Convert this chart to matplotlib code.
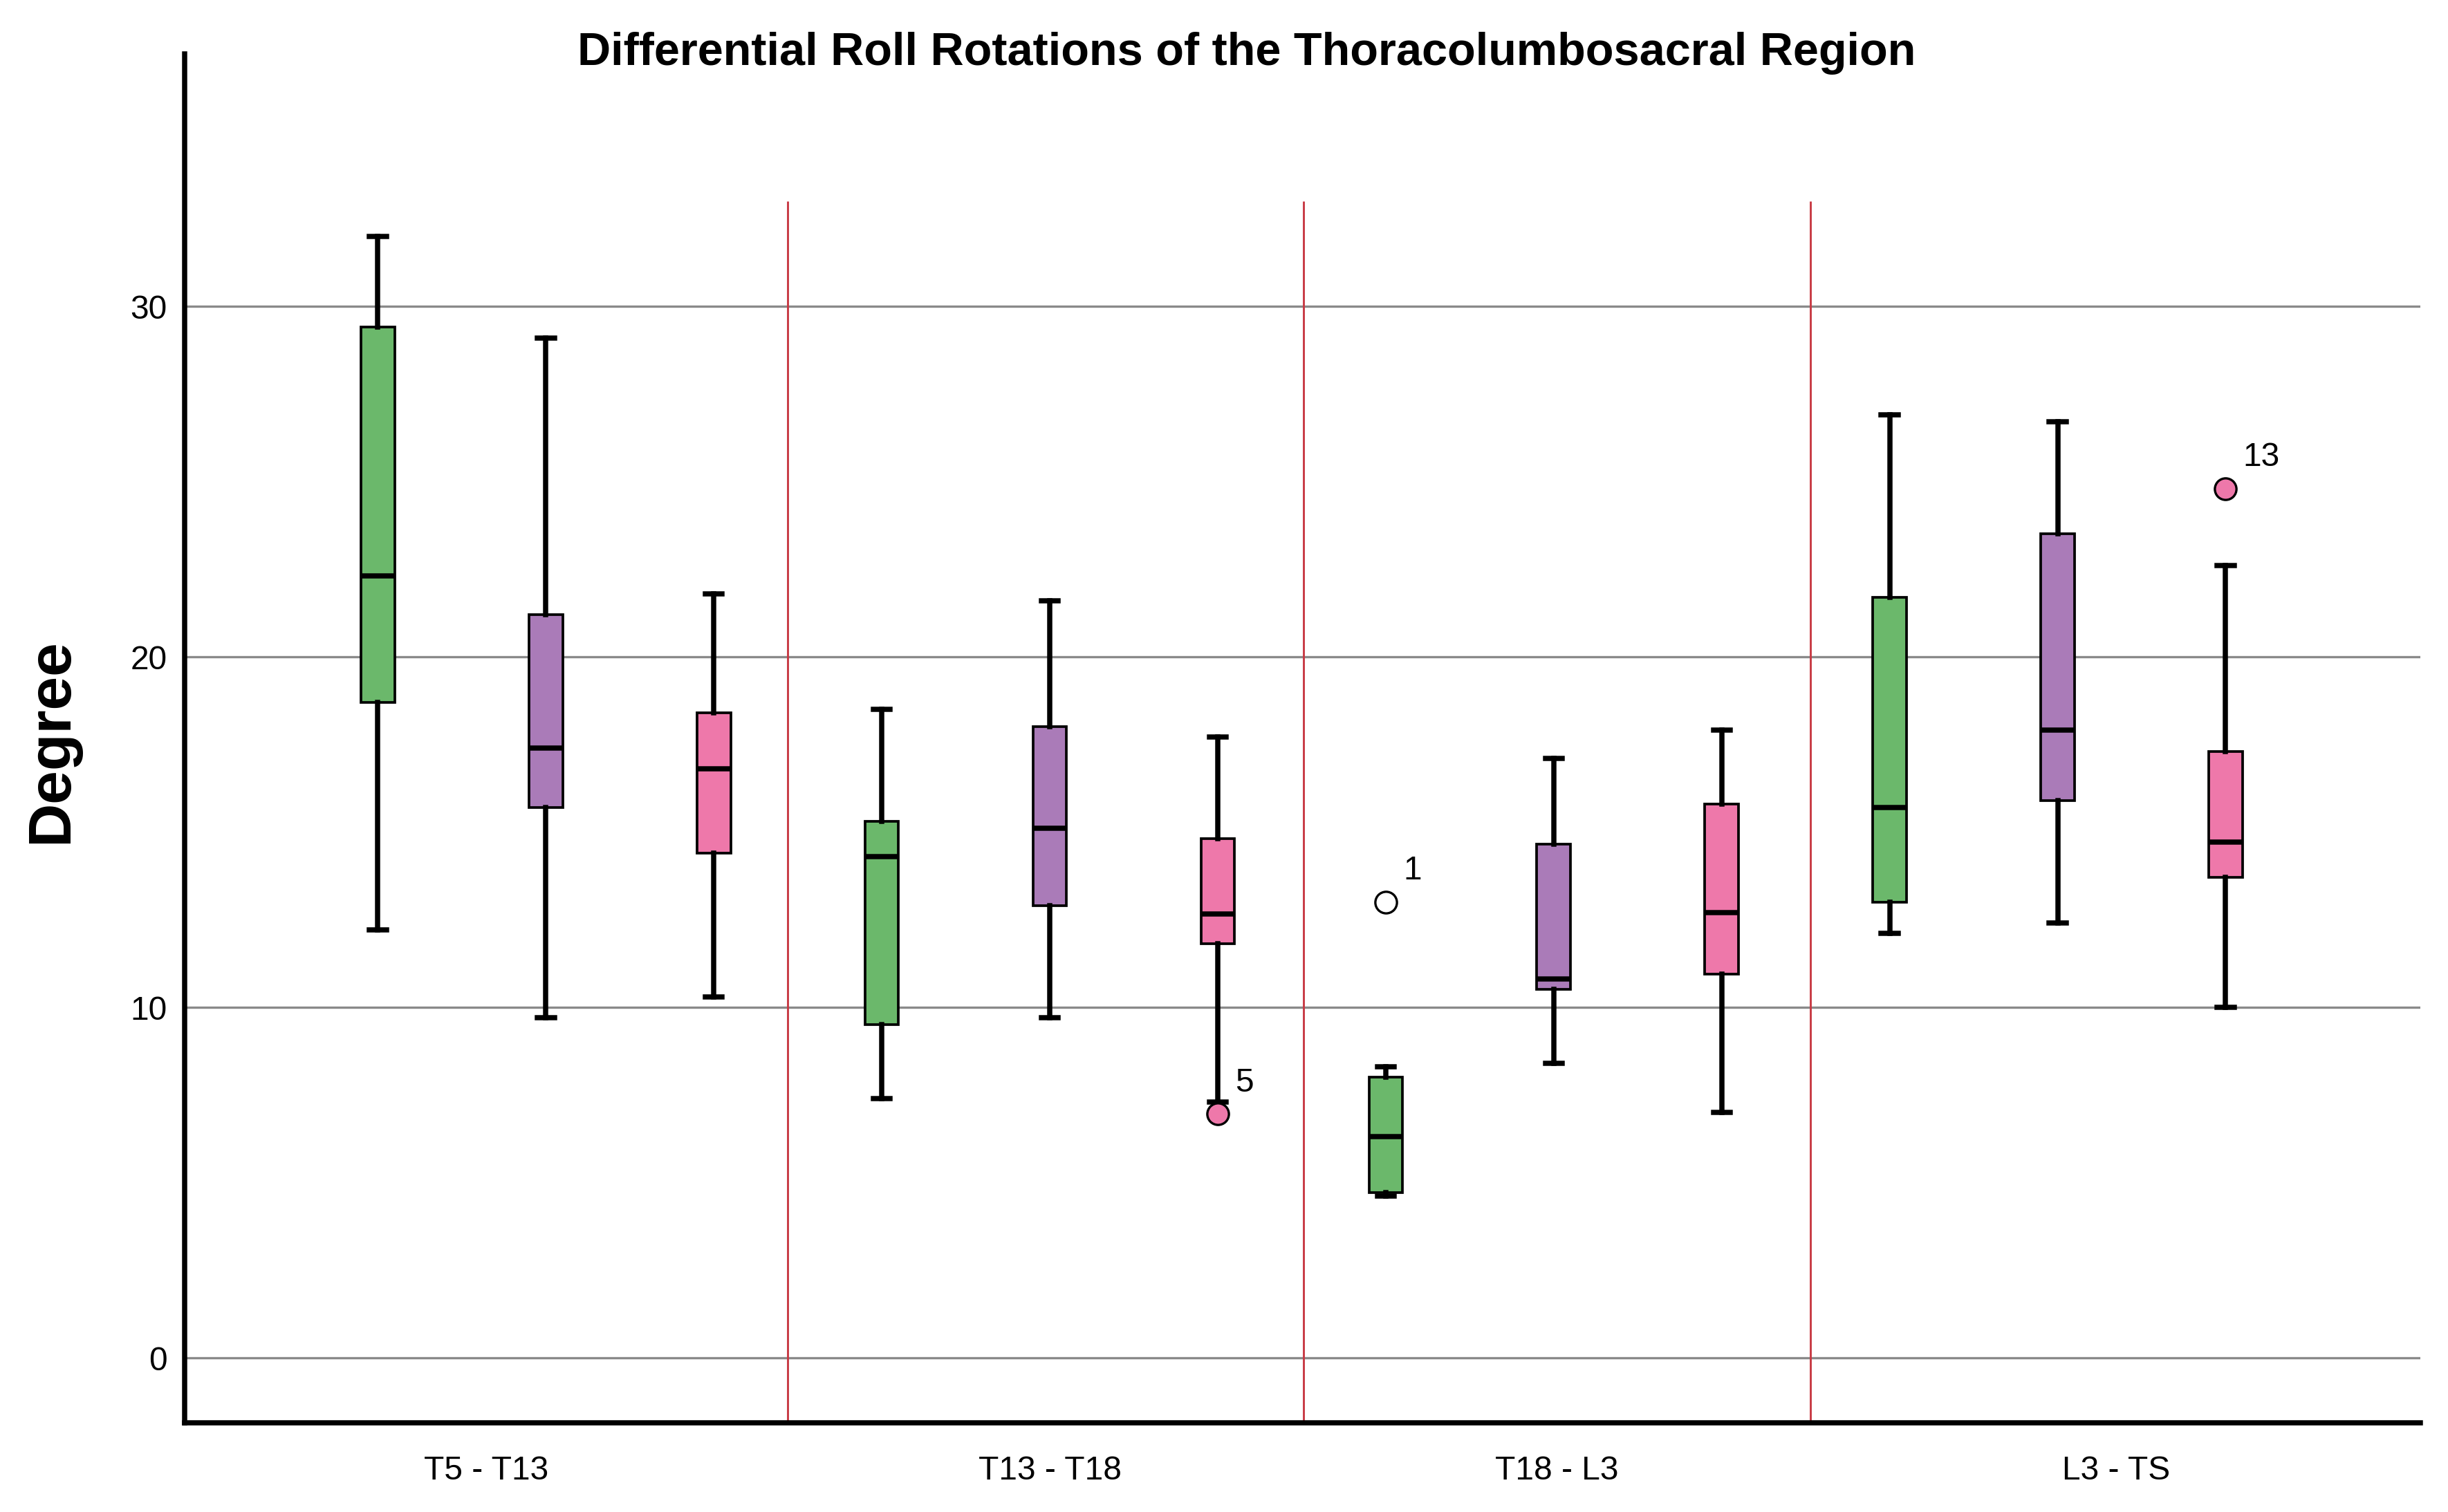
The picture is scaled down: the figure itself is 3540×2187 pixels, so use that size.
import matplotlib
matplotlib.use('Agg')
import matplotlib.pyplot as plt

plt.rcParams['font.family'] = ['Liberation Sans', 'DejaVu Sans']

# 数据
regions = ['T5 - T13', 'T13 - T18', 'T18 - L3', 'L3 - TS']
group_colors = ['#6bb86b', '#aa7bb8', '#ee78aa']

whislo = [12.2, 9.7, 10.3, 7.4, 9.7, 7.3, 4.6, 8.4, 7.0, 12.1, 12.4, 10.0]
q1 = [18.7, 15.7, 14.4, 9.5, 12.9, 11.8, 4.7, 10.5, 10.95, 13.0, 15.9, 13.7]
med = [22.3, 17.4, 16.8, 14.3, 15.1, 12.65, 6.3, 10.8, 12.7, 15.7, 17.9, 14.7]
q3 = [29.4, 21.2, 18.4, 15.3, 18.0, 14.8, 8.0, 14.65, 15.8, 21.7, 23.5, 17.3]
whishi = [32.0, 29.1, 21.8, 18.5, 21.6, 17.7, 8.3, 17.1, 17.9, 26.9, 26.7, 22.6]

# 异常值: (箱序号, 数值, 标签)
outlier_box = [5, 6, 11]
outlier_val = [6.95, 13.0, 24.8]
outlier_lbl = ['5', '1', '13']

fig = plt.figure(figsize=(11.803, 7.293), dpi=300)
ax = fig.add_axes([0.0753, 0.0588, 0.9132, 0.9051])

stats = []
for i in range(len(med)):
    fl = [v for b, v in zip(outlier_box, outlier_val) if b == i]
    stats.append({'whislo': whislo[i], 'q1': q1[i], 'med': med[i],
                  'q3': q3[i], 'whishi': whishi[i], 'fliers': fl})

positions = list(range(len(med)))
bp = ax.bxp(stats, positions=positions, widths=0.2, patch_artist=True,
            boxprops=dict(edgecolor='black', linewidth=0.9),
            medianprops=dict(color='black', linewidth=1.8),
            whiskerprops=dict(color='black', linewidth=1.8),
            capprops=dict(color='black', linewidth=1.8),
            capwidths=0.1,
            flierprops=dict(marker='o', markersize=7.5, markeredgecolor='black',
                            markeredgewidth=0.8),
            zorder=3)

for i, box in enumerate(bp['boxes']):
    box.set_facecolor(group_colors[i % 3])

for i, fl in enumerate(bp['fliers']):
    if i == 6:
        fl.set_markerfacecolor('white')
    else:
        fl.set_markerfacecolor(group_colors[i % 3])

# 异常值编号
for b, v, t in zip(outlier_box, outlier_val, outlier_lbl):
    ax.annotate(t, (b, v), xytext=(6, 11), textcoords='offset points',
                ha='left', va='center', fontsize=11.5)

# 网格线和分隔线
for yv in [0, 10, 20, 30]:
    ax.axhline(yv, color='#8a8a8a', linewidth=0.8, zorder=1)
for xv in [2.44, 5.51, 8.53]:
    ax.vlines(xv, -1.87, 33, color='#c83a44', linewidth=0.7, zorder=2)

ax.set_xlim(-1.152, 12.16)
ax.set_ylim(-1.87, 37.2)
ax.set_yticks([0, 10, 20, 30])
ax.set_yticklabels(['0', '10', '20', '30'], fontsize=11.5)
ax.set_xticks([0.644, 4, 7.02, 10.35])
ax.set_xticklabels(regions, fontsize=11.5)
ax.tick_params(axis='both', length=0)
ax.tick_params(axis='y', pad=6)
ax.tick_params(axis='x', pad=11)

ax.spines['top'].set_visible(False)
ax.spines['right'].set_visible(False)
ax.spines['left'].set_linewidth(1.8)
ax.spines['bottom'].set_linewidth(1.8)

fig.text(0.509, 0.965, 'Differential Roll Rotations of the Thoracolumbosacral Region',
         ha='center', va='center', fontsize=16, fontweight='bold')
fig.text(0.021, 0.51, 'Degree', ha='center', va='center', rotation=90,
         fontsize=21, fontweight='bold')

fig.savefig('out.png', dpi=300)
